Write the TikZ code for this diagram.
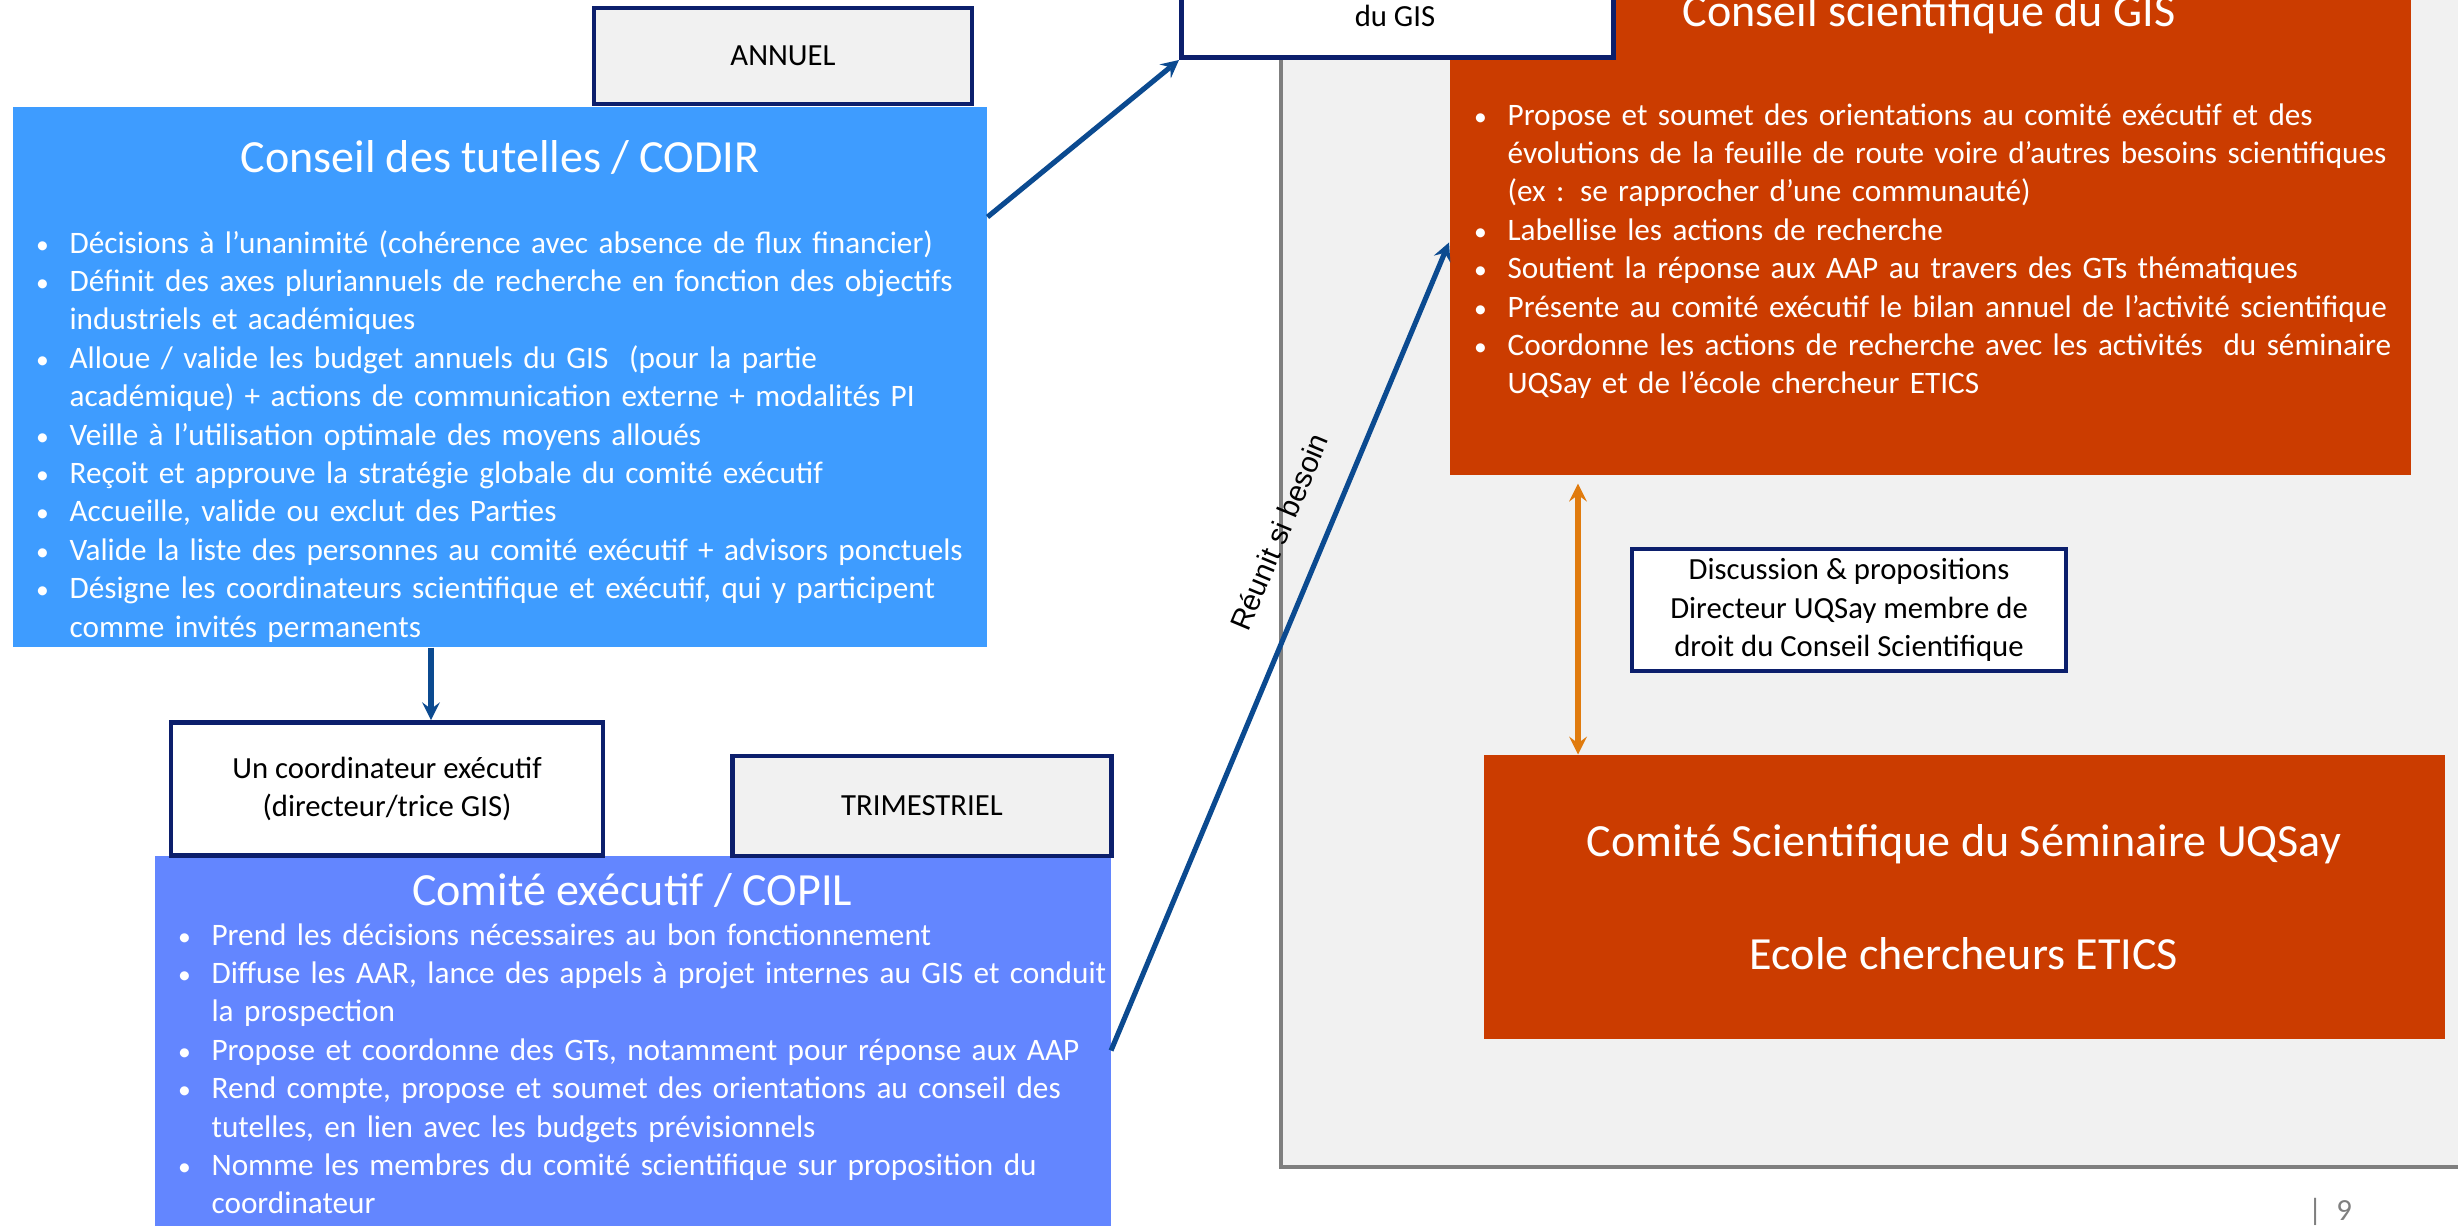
\documentclass[tikz,border=0pt]{standalone}
\usepackage{fontspec}
\setmainfont{Carlito}
\newfontfamily\notefont{Liberation Sans}
\usetikzlibrary{arrows,positioning,calc}

\definecolor{tutblue}{HTML}{3E9CFF}
\definecolor{copblue}{HTML}{6386FF}
\definecolor{sciorange}{HTML}{CB3C00}
\definecolor{navyline}{HTML}{0C1F6C}
\definecolor{arrowblue}{HTML}{0B4A90}
\definecolor{linkorange}{HTML}{E07B0E}
\definecolor{panelgray}{HTML}{F1F1F1}
\definecolor{panelline}{HTML}{7F7F7F}

\newdimen\pxu \pxu=0.3906pt
\newcommand{\bul}[1]{\noindent\hangindent=13.7pt\hangafter=1\makebox[13.7pt][l]{\kern.6pt{\fontsize{10}{10}\selectfont\textbullet}}#1\par}

\begin{document}
\begin{tikzpicture}[%
    >=stealth,
    x=\pxu, y=-\pxu,
    framebox/.style={draw=navyline, line width=1.8pt, fill=white, align=center,
      font=\fontsize{12}{15}\selectfont, inner sep=0pt},
    greybox/.style={framebox, fill=panelgray},
    bigbox/.style={inner sep=0pt, text=white},
    boxtitle/.style={text=white, font=\fontsize{18}{22}\selectfont, inner sep=0pt, anchor=base},
    bullets/.style={text=white, font=\fontsize{12.2}{15}\selectfont, inner sep=0pt,
      anchor=base west, align=left},
    link/.style={->, draw=arrowblue, line width=2pt}
  ]
  \useasboundingbox (0,0) rectangle (2458,1225);
  \clip (0,0) rectangle (2458,1225);

  \node[draw=panelline, fill=panelgray, line width=1.5pt, minimum width=1250\pxu,
    minimum height=1220\pxu, anchor=south west] (panel) at (1279,1169) {};

  \node[bigbox, fill=sciorange, minimum width=961\pxu, minimum height=530\pxu,
    anchor=south west] (csgis) at (1449,476) {};
  \node[boxtitle] (csgistitle) at (1929,27) {Conseil scientifique du GIS};
  \node[bullets, text width=935\pxu] (csgisbul) at (1472,125) {%
    \bul{Propose et soumet des orientations au comité exécutif et des\newline
      évolutions de la feuille de route voire d’autres besoins scientifiques\newline
      (ex : se rapprocher d’une communauté)}
    \bul{Labellise les actions de recherche}
    \bul{Soutient la réponse aux AAP au travers des GTs thématiques}
    \bul{Présente au comité exécutif le bilan annuel de l\char"0027 activité scientifique}
    \bul{Coordonne les actions de recherche avec les activités\ \ du séminaire\newline
      UQSay et de l’école chercheur ETICS}};

  \node[framebox, minimum width=432\pxu, minimum height=150\pxu,
    anchor=south west] (gisbox) at (1179,60) {};
  \node[inner sep=0pt, anchor=base, font=\fontsize{12}{15}\selectfont] (gistext) at (1395,27) {du GIS};

  \node[bigbox, fill=tutblue, minimum width=974\pxu, minimum height=540\pxu] (tutelles) at (500,377) {};
  \node[boxtitle] (tutellestitle) at (500,173) {Conseil des tutelles / CODIR};
  \node[bullets, text width=940\pxu] (tutellesbul) at (34,253) {%
    \bul{Décisions à l’unanimité (cohérence avec absence de flux financier)}
    \bul{Définit des axes pluriannuels de recherche en fonction des objectifs\newline
      industriels et académiques}
    \bul{Alloue / valide les budget annuels du GIS\ \ (pour la partie\newline
      académique) + actions de communication externe + modalités PI}
    \bul{Veille à l’utilisation optimale des moyens alloués}
    \bul{Reçoit et approuve la stratégie globale du comité exécutif}
    \bul{Accueille, valide ou exclut des Parties}
    \bul{Valide la liste des personnes au comité exécutif + advisors ponctuels}
    \bul{Désigne les coordinateurs scientifique et exécutif, qui y participent\newline
      comme invités permanents}};

  \node[greybox, minimum width=378\pxu, minimum height=96\pxu] (annuel) at (783,56) {ANNUEL};

  \node[bigbox, fill=copblue, minimum width=956\pxu, minimum height=420\pxu,
    anchor=north west] (copil) at (154,855) {};
  \node[boxtitle] (copiltitle) at (632,905) {Comité exécutif / COPIL};
  \node[bullets, text width=930\pxu] (copilbul) at (176,945) {%
    \bul{Prend les décisions nécessaires au bon fonctionnement}
    \bul{Diffuse les AAR, lance des appels à projet internes au GIS et conduit\newline
      la prospection}
    \bul{Propose et coordonne des GTs, notamment pour réponse aux AAP}
    \bul{Rend compte, propose et soumet des orientations au conseil des\newline
      tutelles, en lien avec les budgets prévisionnels}
    \bul{Nomme les membres du comité scientifique sur proposition du\newline
      coordinateur}};

  \node[framebox, minimum width=432\pxu, minimum height=133\pxu] (coord) at (387,789) {Un coordinateur exécutif\\(directeur/trice GIS)};
  \node[greybox, minimum width=379\pxu, minimum height=100\pxu] (trimestriel) at (922,806) {TRIMESTRIEL};

  \node[framebox, minimum width=434\pxu, minimum height=122\pxu] (discussion) at (1849,610) {Discussion \& propositions\\Directeur UQSay membre de\\droit du Conseil Scientifique};

  \node[bigbox, fill=sciorange, minimum width=961\pxu, minimum height=284\pxu, align=center,
    font=\fontsize{18}{44}\selectfont] (uqsay) at (1964,897) {Comité Scientifique du Séminaire UQSay\\Ecole chercheurs ETICS};

  \node[inner sep=0pt, text=panelline, font=\fontsize{12}{15}\selectfont] (pagenum) at (2330,1212) {|\ \ 9};

  \coordinate (ox) at (1578,0);
  \draw[link] ([yshift=160\pxu]tutelles.east) -- (gisbox.south west);
  \draw[link] ([xshift=-69\pxu]tutelles.south) -- ([xshift=44\pxu]coord.north);
  \draw[link] ([yshift=15\pxu]copil.east) -- node[sloped, above=9pt, pos=0.62, text=black,
    font=\notefont\fontsize{11.5}{12}\selectfont] {Réunit si besoin} ([yshift=-32\pxu]csgis.west);
  \draw[<->, draw=linkorange, line width=2pt, shorten <=3pt] (ox |- csgis.south) -- (ox |- uqsay.north);
\end{tikzpicture}
\end{document}
